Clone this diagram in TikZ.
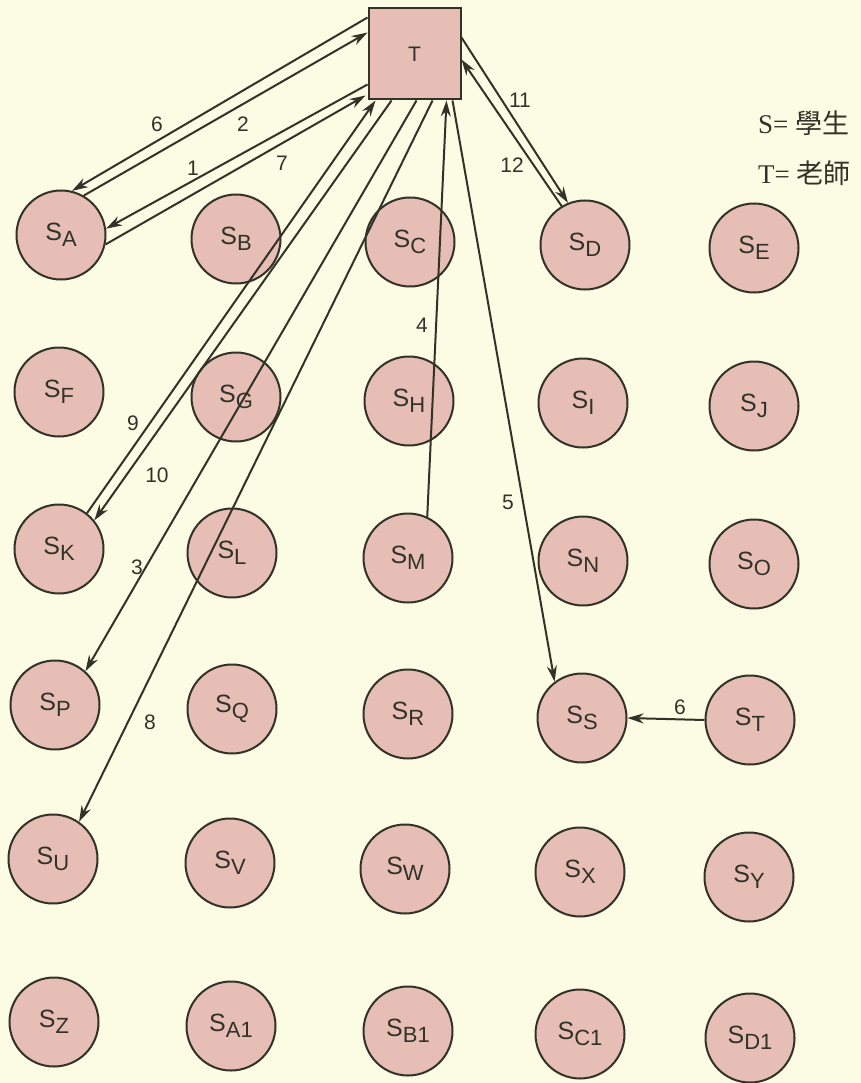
\documentclass[tikz,border=0pt]{standalone}
\usepackage{fontspec}
\setmainfont{Liberation Serif}
\newfontfamily\labfont{Liberation Sans}
\newfontfamily\cjk{Noto Sans CJK TC}
\usetikzlibrary{arrows.meta,calc}
\definecolor{bgc}{RGB}{252,252,228}
\definecolor{stc}{RGB}{230,190,181}
\definecolor{ink}{RGB}{50,50,40}
\newcommand{\stud}[1]{S\raisebox{-6pt}{\fontsize{22}{22}\selectfont #1}}
\begin{document}
\begin{tikzpicture}[x=1pt,y=-1pt,
  stnode/.style={circle, draw=ink, line width=2pt, fill=stc, minimum size=89pt, inner sep=0pt, font=\labfont\fontsize{25}{25}\selectfont, text=ink},
  teacher/.style={rectangle, draw=ink, line width=2pt, fill=stc, minimum width=92pt, minimum height=91pt, inner sep=0pt, font=\labfont\fontsize{21}{21}\selectfont, text=ink},
  conn/.style={draw=ink, line width=2pt, -{Stealth[length=16pt,width=10pt]}},
  num/.style={font=\labfont\fontsize{21}{21}\selectfont, text=ink, inner sep=0pt},
  legend/.style={anchor=west, font=\fontsize{27}{27}\selectfont, text=ink, inner sep=0pt}]
\fill[bgc] (0,0) rectangle (861,1083);
\useasboundingbox (0,0) rectangle (861,1083);
% teacher
\node[teacher] (T) at (414.5,54) {T};
% students
\node[stnode] (SA) at (61,235) {\stud{A}};
\node[stnode] (SB) at (236,239) {\stud{B}};
\node[stnode] (SC) at (410,242) {\stud{C}};
\node[stnode] (SD) at (585,245) {\stud{D}};
\node[stnode] (SE) at (754,248) {\stud{E}};
\node[stnode] (SF) at (59,392) {\stud{F}};
\node[stnode] (SG) at (236,397) {\stud{G}};
\node[stnode] (SH) at (409,401) {\stud{H}};
\node[stnode] (SI) at (583,403) {\stud{I}};
\node[stnode] (SJ) at (754,406) {\stud{J}};
\node[stnode] (SK) at (59,549) {\stud{K}};
\node[stnode] (SL) at (232,553) {\stud{L}};
\node[stnode] (SM) at (408,558) {\stud{M}};
\node[stnode] (SN) at (583,561) {\stud{N}};
\node[stnode] (SO) at (754,564) {\stud{O}};
\node[stnode] (SP) at (55,705) {\stud{P}};
\node[stnode] (SQ) at (232,709) {\stud{Q}};
\node[stnode] (SR) at (408,714) {\stud{R}};
\node[stnode] (SS) at (582,718) {\stud{S}};
\node[stnode] (ST) at (750,720) {\stud{T}};
\node[stnode] (SU) at (53,859) {\stud{U}};
\node[stnode] (SV) at (230,863) {\stud{V}};
\node[stnode] (SW) at (405,869) {\stud{W}};
\node[stnode] (SX) at (580,872) {\stud{X}};
\node[stnode] (SY) at (749,877) {\stud{Y}};
\node[stnode] (SZ) at (54,1022) {\stud{Z}};
\node[stnode] (SA1) at (231,1026) {\stud{A1}};
\node[stnode] (SB1) at (408,1031) {\stud{B1}};
\node[stnode] (SC1) at (580,1034) {\stud{C1}};
\node[stnode] (SD1) at (750,1038) {\stud{D1}};
% connectors
\draw[conn] ($(T.north west)+(0,10)$) -- (SA.76);
\draw[conn] (SA.60) -- ($(T.north west)+(0,25)$);
\draw[conn] ($(T.north west)+(0,77)$) -- (SA.8);
\draw[conn] (SA.-12) -- ($(T.south west)+(-2,-5)$);
\draw[conn] (SK.52) -- ($(T.south west)+(8,0)$);
\draw[conn] ($(T.south west)+(24,0)$) -- (SK.39);
\draw[conn] ($(T.south west)+(49,0)$) -- (SP.48);
\draw[conn] ($(T.south west)+(65,0)$) -- (SU.55);
\draw[conn] (SM.65) -- ($(T.south west)+(79,0)$);
\draw[conn] ($(T.south east)+(-9,0)$) -- (SS.127);
\draw[conn] ($(T.north east)+(0,30)$) -- (SD.112);
\draw[conn] (SD.121) -- ($(T.north east)+(0,52)$);
\draw[conn] (ST.west) -- (SS.east);
% connector labels
\node[num] (n6a) at (157,124) {6};
\node[num] (n2) at (243,124) {2};
\node[num] (n1) at (193,168) {1};
\node[num] (n7) at (282,163) {7};
\node[num] (n9) at (133,423) {9};
\node[num] (n10) at (157,475) {10};
\node[num] (n3) at (137,567) {3};
\node[num] (n8) at (150,722) {8};
\node[num] (n4) at (422,325) {4};
\node[num] (n5) at (508,502) {5};
\node[num] (n11) at (520,100) {11};
\node[num] (n12) at (512,165) {12};
\node[num] (n6b) at (680,707) {6};
% legend
\node[legend] (legS) at (758,123) {S= {\cjk 學生}};
\node[legend] (legT) at (758,173) {T= {\cjk 老師}};
\end{tikzpicture}
\end{document}
